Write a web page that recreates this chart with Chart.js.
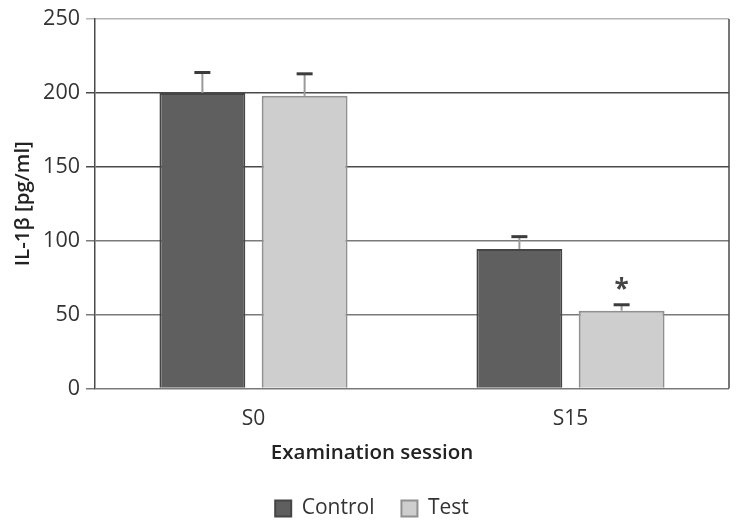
<!DOCTYPE html>
<html>
<head>
<meta charset="utf-8">
<script src="https://cdn.jsdelivr.net/npm/chart.js@4/dist/chart.umd.min.js"></script>
<style>
  html, body { margin: 0; padding: 0; background: #ffffff; }
  #wrap { width: 744px; height: 525px; position: relative; }
</style>
</head>
<body>
<div id="wrap"><canvas id="c"></canvas></div>
<script>
// ---- data ----
const categories = ['S0', 'S15'];
const controlValues = [200, 94.4];
const controlErrors = [13.8, 8.3];
const testValues = [198, 52.6];
const testErrors = [14.9, 4.0];
const testMarks = ['', '*'];
const yTicks = [0, 50, 100, 150, 200, 250];

const FONT = "'Open Sans', 'Noto Sans', sans-serif";

const errorBarPlugin = {
  id: 'errorBars',
  afterDatasetsDraw(chart) {
    const ctx = chart.ctx;
    const yScale = chart.scales.y;
    chart.data.datasets.forEach((ds, di) => {
      const meta = chart.getDatasetMeta(di);
      meta.data.forEach((bar, i) => {
        const v = ds.data[i];
        const e = ds.errors[i];
        const x = bar.x;
        const yTop = yScale.getPixelForValue(v + e);
        const yBase = yScale.getPixelForValue(v);
        ctx.save();
        ctx.strokeStyle = '#9a9a9a';
        ctx.lineWidth = 2;
        ctx.beginPath();
        ctx.moveTo(x, yBase);
        ctx.lineTo(x, yTop);
        ctx.stroke();
        ctx.strokeStyle = '#3c3c3c';
        ctx.lineWidth = 3;
        ctx.beginPath();
        ctx.moveTo(x - 8, yTop);
        ctx.lineTo(x + 8, yTop);
        ctx.stroke();
        if (ds.marks && ds.marks[i]) {
          ctx.fillStyle = '#444';
          ctx.font = 'bold 26px ' + FONT;
          ctx.textAlign = 'center';
          ctx.textBaseline = 'alphabetic';
          ctx.fillText(ds.marks[i], x, yTop - 7);
        }
        ctx.restore();
      });
    });
  }
};

const frameRightPlugin = {
  id: 'frameRight',
  afterDraw(chart) {
    const {ctx, chartArea} = chart;
    ctx.save();
    ctx.strokeStyle = '#4a4a4a';
    ctx.lineWidth = 1.5;
    ctx.beginPath();
    ctx.moveTo(chartArea.right, chartArea.top);
    ctx.lineTo(chartArea.right, chartArea.bottom);
    ctx.stroke();
    ctx.restore();
  }
};

new Chart(document.getElementById('c'), {
  type: 'bar',
  data: {
    labels: categories,
    datasets: [
      {
        label: 'Control',
        data: controlValues,
        errors: controlErrors,
        backgroundColor: '#5f5f5f',
        borderColor: '#454545',
        borderWidth: 2,
        categoryPercentage: 0.645,
        barPercentage: 0.84
      },
      {
        label: 'Test',
        data: testValues,
        errors: testErrors,
        marks: testMarks,
        backgroundColor: '#cecece',
        borderColor: '#909090',
        borderWidth: 2,
        categoryPercentage: 0.645,
        barPercentage: 0.84
      }
    ]
  },
  options: {
    responsive: true,
    maintainAspectRatio: false,
    animation: false,
    layout: { padding: { top: 19, right: 15, left: 15, bottom: -4 } },
    scales: {
      x: {
        grid: { display: false },
        border: { display: false },
        ticks: { color: '#333', font: { family: FONT, size: 21 }, padding: 10 },
        afterFit(scale) { scale.height = 52; }
      },
      y: {
        min: 0,
        max: 250,
        afterBuildTicks(scale) { scale.ticks = yTicks.map(v => ({ value: v })); },
        grid: {
          color: (c) => (c.tick && c.tick.value === 250) ? '#b5b5b5' : ((c.tick && c.tick.value >= 150) ? '#4a4a4a' : '#7a7a7a'),
          lineWidth: 1.5,
          tickLength: 9,
          drawTicks: true
        },
        border: { display: true, color: '#4a4a4a', width: 1.5 },
        ticks: { color: '#333', font: { family: FONT, size: 21.5 }, padding: 6 },
        title: {
          display: true,
          text: 'IL-1β [pg/ml]',
          color: '#222',
          font: { family: FONT, size: 20.5, weight: '600' },
          padding: { top: -4, bottom: 0 }
        },
        afterFit(scale) { scale.width = 80; }
      }
    },
    plugins: {
      title: {
        display: true,
        position: 'bottom',
        weight: 500,
        text: 'Examination session',
        color: '#222',
        font: { family: FONT, size: 20.5, weight: '600' },
        padding: { top: 0, bottom: 6 }
      },
      legend: {
        position: 'bottom',
        labels: {
          color: '#333',
          font: { family: FONT, size: 21 },
          boxWidth: 16,
          boxHeight: 16,
          padding: 27
        }
      },
      tooltip: { enabled: false }
    }
  },
  plugins: [errorBarPlugin, frameRightPlugin]
});
</script>
</body>
</html>
